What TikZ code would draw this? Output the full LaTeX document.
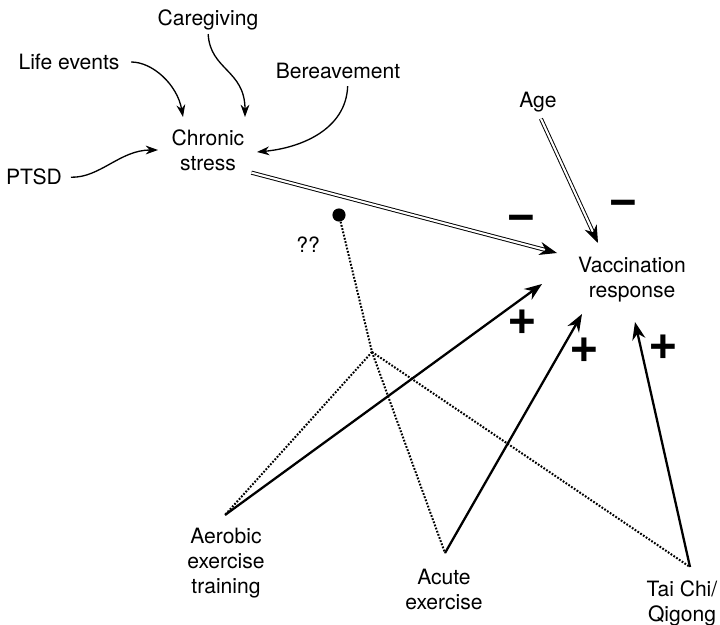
\documentclass[tikz,border=0pt]{standalone}
\usepackage{fontspec}
\setmainfont{TeX Gyre Heros}
\usetikzlibrary{arrows.meta}

\begin{document}
\begin{tikzpicture}[x=0.02cm,y=-0.02cm,
        factor/.style={align=center,font=\fontsize{12}{14.2}\selectfont,inner sep=0pt},
        sign/.style={font=\fontsize{29}{29}\selectfont\bfseries,inner sep=0pt},
        thinarrow/.style={-{Stealth[length=7pt,width=5pt]},line width=0.75pt},
        effect/.style={-{Stealth[length=10pt,width=7.5pt]},line width=1.3pt},
        negeffect/.style={-{Stealth[length=10pt,width=7.5pt]},double,double distance=1.2pt,line width=0.55pt},
        link/.style={line width=1.15pt,dash pattern=on 1pt off 0.9pt},
        ]
        \useasboundingbox (0,0) rectangle (720,625);
        % factors
        \node[factor] (caregiv) at (208,20) {Caregiving};
        \node[factor] (lifeev) at (69,62) {Life events};
        \node[factor] (bereav) at (338,71) {Bereavement};
        \node[factor] (ptsd) at (34,177) {PTSD};
        \node[factor] (chronic) at (208,150) {Chronic\\stress};
        \node[factor] (age) at (538,102) {Age};
        \node[factor] (vacc) at (632,280) {Vaccination\\response};
        \node[factor] (aerobic) at (226,563) {Aerobic\\exercise\\training};
        \node[factor] (acute) at (444,589) {Acute\\exercise};
        \node[factor] (taichi) at (682,603) {Tai Chi/\\Qigong};
        \node[factor] (unknown) at (308,245) {??};
        \node[circle,fill=black,inner sep=0pt,minimum size=7.5pt] (dot) at (339,215) {};
        % free ends
        \coordinate (le-tip) at (183,117);
        \coordinate (cg-tip) at (245,117);
        \coordinate (bv-tip) at (257,152);
        \coordinate (pt-tip) at (158,150);
        \coordinate (cs-tip) at (557,253);
        \coordinate (age-tip) at (598,243);
        \coordinate (aer-tip) at (542,284);
        \coordinate (acu-tip) at (582,314);
        \coordinate (tai-tip) at (635,322);
        \coordinate (aer-pt) at (225,515);
        \coordinate (acu-pt) at (445,553);
        \coordinate (tai-pt) at (690,567);
        \coordinate (jn) at (372,352);
        % stressors
        \draw[thinarrow,shorten <=6.5pt] (lifeev.east) to[out=0,in=100] (le-tip);
        \draw[thinarrow,shorten <=2pt] (caregiv.south) .. controls (210,70) and (245,70) .. (cg-tip);
        \draw[thinarrow] ([xshift=5.5pt,yshift=-4pt]bereav.south) .. controls (346,130) and (300,148) .. (bv-tip);
        \draw[thinarrow,shorten <=5pt] (ptsd.east) .. controls (100,178) and (120,150) .. (pt-tip);
        % negative effects
        \draw[negeffect,shorten <=4pt] (chronic.south east) -- (cs-tip);
        \draw[negeffect,shorten <=4pt] (age.south) -- (age-tip);
        \node[sign] (minus1) at (521,223) {−};
        \node[sign] (minus2) at (623,208) {−};
        % exercise
        \draw[link] (dot) -- (jn);
        \draw[link] (jn) -- (aer-pt);
        \draw[link] (jn) -- (acu-pt);
        \draw[link] (jn) -- (tai-pt);
        \draw[effect] (aer-pt) -- (aer-tip);
        \draw[effect] (acu-pt) -- (acu-tip);
        \draw[effect] (tai-pt) -- (tai-tip);
        \node[sign] (plus1) at (522,322) {+};
        \node[sign] (plus2) at (584,350) {+};
        \node[sign] (plus3) at (663,347) {+};
\end{tikzpicture}
\end{document}
